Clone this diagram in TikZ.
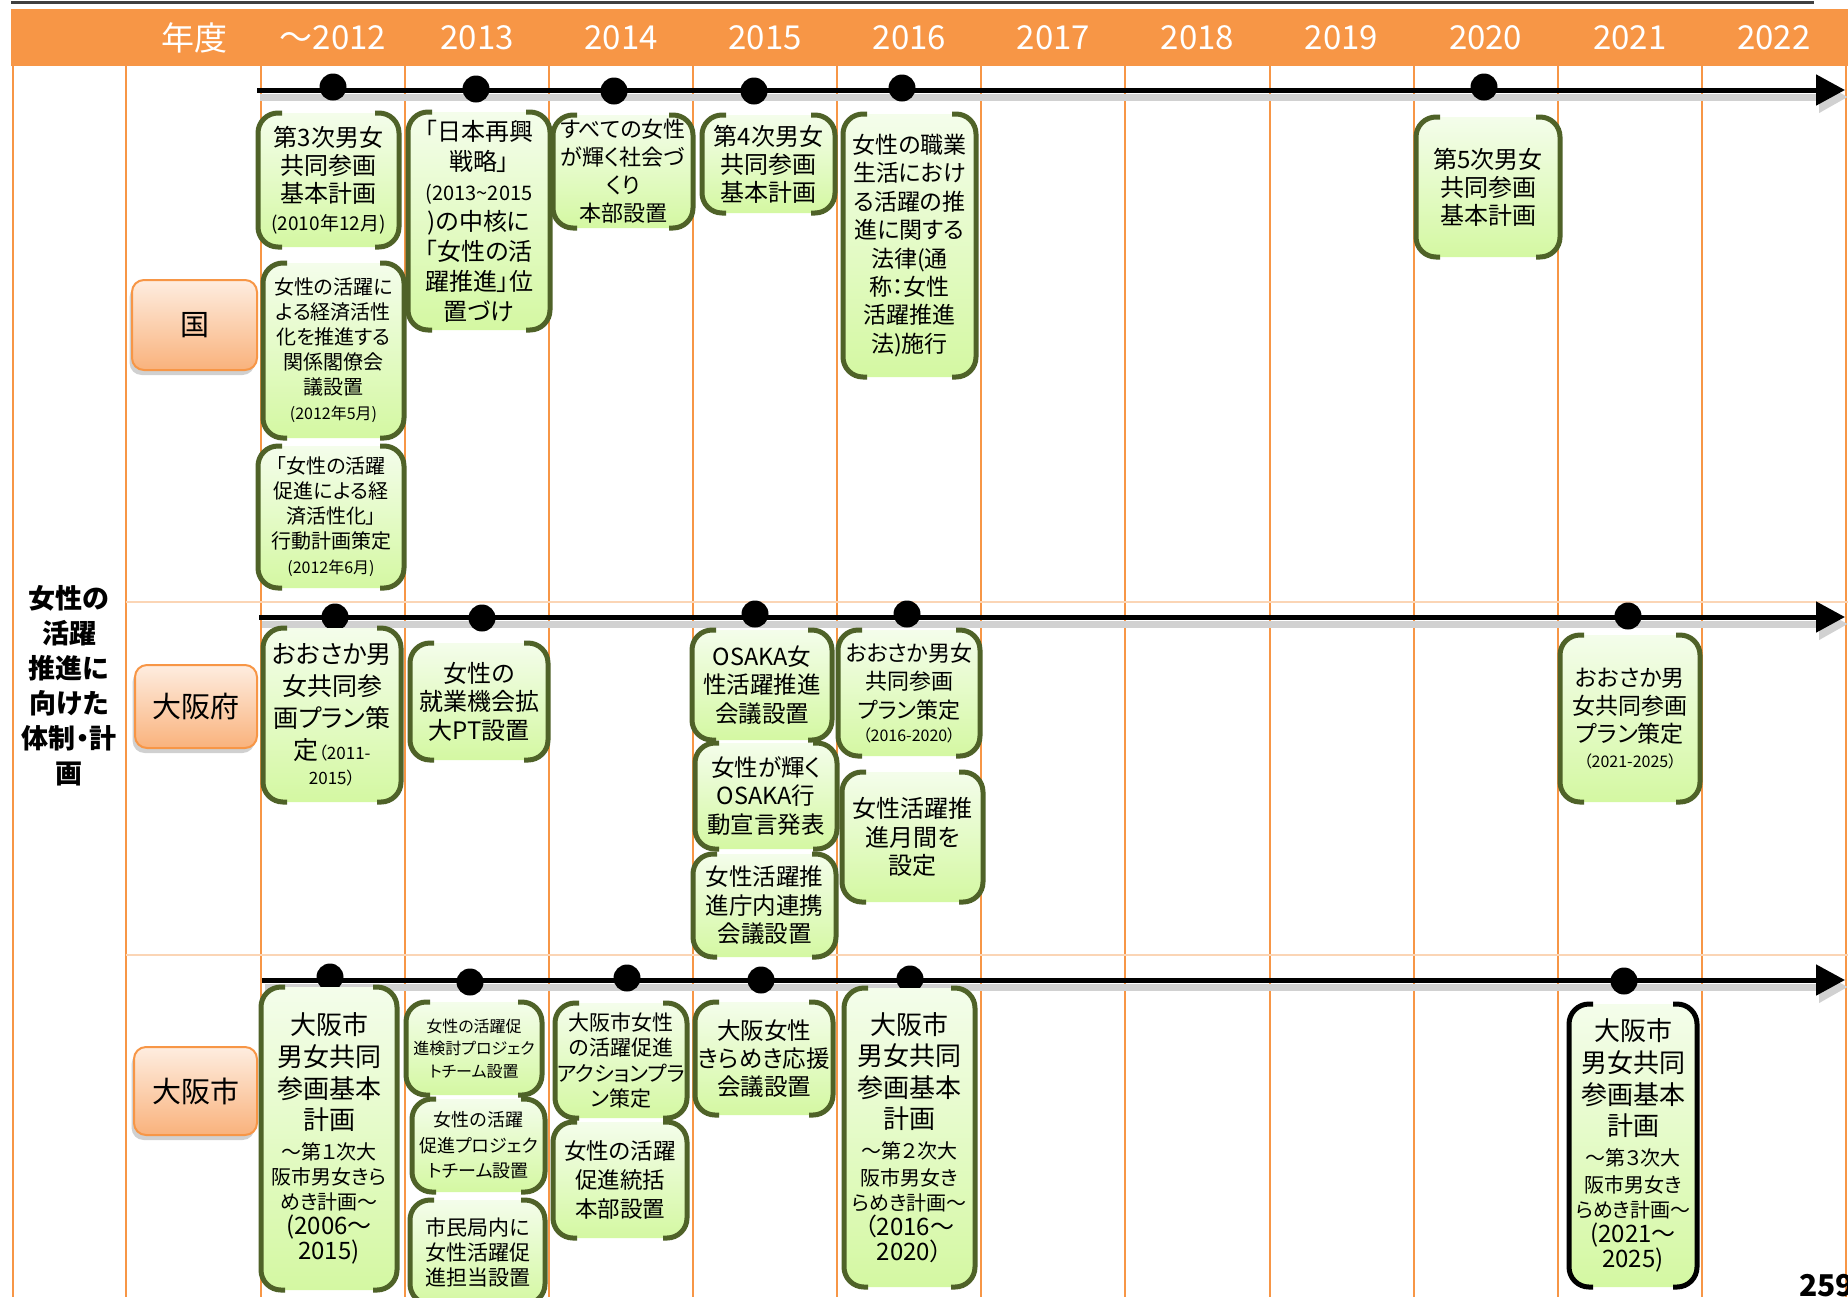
\documentclass[tikz,border=0pt]{standalone}
\usepackage{fontspec}
\setmainfont{Noto Sans CJK JP}[RawFeature=+palt]
\usetikzlibrary{arrows.meta, shadows}

\definecolor{hdrorange}{HTML}{F79646}
\definecolor{sepline}{HTML}{FBD5B5}
\definecolor{cattop}{HTML}{FEEDE0}
\definecolor{catbot}{HTML}{F9B27C}
\definecolor{evtop}{HTML}{F4FDEB}
\definecolor{evbot}{HTML}{D4F8A2}
\definecolor{evline}{HTML}{4F6228}

\newcommand{\setfs}[2]{\fontsize{#1pt}{#2pt}\selectfont}

\begin{document}
\begin{tikzpicture}[x=0.5pt,y=-0.5pt,
  gridline/.style={hdrorange, line width=1pt},
  yearlab/.style={text=white, font=\setfs{16.5}{20}},
  boxsize/.style 2 args={minimum width=#1pt, minimum height=#2pt},
  catbox/.style={draw=hdrorange, line width=1pt, rounded corners=6pt,
    top color=cattop, bottom color=catbot, inner sep=0pt, font=\setfs{14.5}{17},
    drop shadow={shadow xshift=-1.2pt, shadow yshift=-2.5pt, opacity=0.3, fill=black!60}},
  evbox/.style={rounded corners=10pt, top color=evtop, bottom color=evbot,
    inner sep=0pt, outer sep=0pt, align=center},
  bracket/.style={line width=2.5pt, rounded corners=10pt},
  timeline/.style={line width=2.5pt, -{Triangle[length=14.5pt,width=15pt]}},
  tlshadow/.style={line width=3.5pt, black!18, -{Triangle[length=14.5pt,width=15pt]}},
  tldot/.style={circle, fill=black, inner sep=0pt, minimum size=13.5pt}]

\useasboundingbox (0,0) rectangle (1848,1297);
\clip (0,0) rectangle (1848,1297);
\fill[white] (0,0) rectangle (1848,1297);

% Header band and grid
\draw[black!75, line width=1.5pt] (11,2) -- (1814,2);
\fill[hdrorange] (11,9) rectangle (1848,66);
\draw[gridline] (13,66) -- (13,1297);
\draw[gridline] (125.5,66) -- (125.5,1297);
\foreach \i in {0,...,11}
  \draw[gridline] ({261+144.08*\i},66) -- ({261+144.08*\i},1297);
\draw[sepline, line width=0.8pt] (125.5,602) -- (1848,602);
\draw[sepline, line width=0.8pt] (125.5,955) -- (1848,955);

\node[yearlab] (nendo) at (194,38) {年度};
\foreach \yr [count=\i from 0] in {～2012,2013,2014,2015,2016,2017,2018,2019,2020,2021,2022}
  \node[yearlab] (yr\i) at ({333+144.08*\i},38) {\yr};

% Row labels
\node[font=\setfs{13.5}{17.5}\bfseries, align=center] (theme) at (69,686)
  {女性の\\活躍\\推進に\\向けた\\体制・計\\画};
\node[catbox, boxsize={62.5}{45}] (kuni) at (194.5,325) {国};
\node[catbox, boxsize={61}{41.5}] (fu) at (196,706.5) {大阪府};
\node[catbox, boxsize={61.5}{44}] (shi) at (195.5,1091) {大阪市};

% Time lines
\coordinate (kunis) at (257,90);  \coordinate (kunie) at (1845,90);
\coordinate (fus)   at (259,617); \coordinate (fue)   at (1845,617);
\coordinate (shis)  at (262,980); \coordinate (shie)  at (1845,980);
\foreach \a/\b in {kunis/kunie, fus/fue, shis/shie} {
  \draw[tlshadow] ([shift={(1.5pt,-3.5pt)}]\a) -- ([shift={(1.5pt,-3.5pt)}]\b);
  \draw[timeline] (\a) -- (\b);
}

\foreach \x/\y [count=\i] in {333/87, 476/89, 614/91, 754/91, 902/88, 1484/87}
  \node[tldot] (kd\i) at (\x,\y) {};
\foreach \x/\y [count=\i] in {335/617, 482/618, 755/614, 907/614, 1628/616}
  \node[tldot] (fd\i) at (\x,\y) {};
\foreach \x/\y [count=\i] in {330/977, 470/982, 627/978, 761/980, 910/979, 1624/981}
  \node[tldot] (sd\i) at (\x,\y) {};

% National events
\node[evbox, font=\setfs{12}{14}, boxsize={70.5}{67}] (k1) at (328.5,180)
  {第3次男女\\共同参画\\基本計画\\{\setfs{9.5}{11}(2010年12月)}};
\node[evbox, font=\setfs{10}{12.5}, boxsize={70.5}{87.5}] (k2) at (333.5,350.5)
  {女性の活躍に\\よる経済活性\\化を推進する\\関係閣僚会\\議設置\\{\setfs{8}{10}(2012年5月)}};
\node[evbox, font=\setfs{10}{12.5}, boxsize={73}{71}] (k3) at (331,517)
  {「女性の活躍\\促進による経\\済活性化」\\行動計画策定\\{\setfs{8}{10}(2012年6月)}};
\node[evbox, font=\setfs{12}{15}, boxsize={71}{109}] (k4) at (479,221)
  {「日本再興\\戦略」\\{\setfs{10}{12}(2013\textasciitilde 2015}\\)の中核に\\「女性の活\\躍推進」位\\置づけ};
\node[evbox, font=\setfs{11}{14}, boxsize={70}{56.5}] (k5) at (623,171.5)
  {すべての女性\\が輝く社会づ\\くり\\本部設置};
\node[evbox, font=\setfs{12}{14}, boxsize={66.5}{49}] (k6) at (768.5,164)
  {第4次男女\\共同参画\\基本計画};
\node[evbox, font=\setfs{11.5}{14.2}, boxsize={66.5}{131.5}] (k7) at (909.5,245.5)
  {女性の職業\\生活におけ\\る活躍の推\\進に関する\\法律(通\\称：女性\\活躍推進\\法)施行};
\node[evbox, font=\setfs{12}{14}, boxsize={72}{70}] (k8) at (1488,187)
  {第5次男女\\共同参画\\基本計画};

% Osaka prefecture events
\node[evbox, font=\setfs{12.5}{16}, boxsize={69}{87}] (f1) at (332,715)
  {おおさか男\\女共同参\\画プラン策\\定{\setfs{8.5}{10}（2011-}\\[-3.5pt]{\setfs{8.5}{10}2015）}};
\node[evbox, font=\setfs{12}{14.25}, boxsize={69}{58.5}] (f2) at (479,701.5)
  {女性の\\就業機会拡\\大PT設置};
\node[evbox, font=\setfs{11.75}{14.25}, boxsize={70}{55}] (f3) at (762,685)
  {OSAKA女\\性活躍推進\\会議設置};
\node[evbox, font=\setfs{11.75}{14.25}, boxsize={71}{53}] (f4) at (766,796)
  {女性が輝く\\OSAKA行\\動宣言発表};
\node[evbox, font=\setfs{11.75}{14.25}, boxsize={71.5}{51.5}] (f5) at (764.5,905.5)
  {女性活躍推\\進庁内連携\\会議設置};
\node[evbox, font=\setfs{11}{14.25}, boxsize={71}{63}] (f6) at (909,693)
  {おおさか男女\\共同参画\\プラン策定\\[-2.5pt]{\setfs{8}{10}（2016-2020）}};
\node[evbox, font=\setfs{12}{14.25}, boxsize={70.5}{65}] (f7) at (912.5,837)
  {女性活躍推\\進月間を\\設定};
\node[evbox, font=\setfs{11.5}{14}, boxsize={70}{83.5}] (f8) at (1630,718.5)
  {おおさか男\\女共同参画\\プラン策定\\[-1.5pt]{\setfs{8}{10}（2021-2025）}};

% Osaka city events
\node[evbox, font=\setfs{13}{15.8}, boxsize={68}{151.5}] (s1) at (329,1138.5)
  {大阪市\\男女共同\\参画基本\\計画\\[-1pt]{\setfs{10}{12}～第１次大}\\[-3.3pt]{\setfs{10}{12}阪市男女きら}%
   \\[-3.3pt]{\setfs{10}{12}めき計画～}\\[-3.3pt]{\setfs{12}{14}(2006～}\\[-3.3pt]{\setfs{12}{14}2015)}};
\node[evbox, font=\setfs{8}{11.25}, boxsize={68}{46.5}] (s2) at (474,1048.5)
  {女性の活躍促\\進検討プロジェク\\トチーム設置};
\node[evbox, font=\setfs{9}{12.75}, boxsize={66.5}{46.5}] (s3) at (478.5,1145.5)
  {女性の活躍\\促進プロジェク\\トチーム設置};
\node[evbox, font=\setfs{10.5}{12.5}, boxsize={67.5}{52}] (s4) at (477.5,1252)
  {市民局内に\\女性活躍促\\進担当設置};
\node[evbox, font=\setfs{10.5}{12.8}, boxsize={66}{57.5}] (s5) at (621,1060.5)
  {大阪市女性\\の活躍促進\\アクションプラ\\ン策定};
\node[evbox, font=\setfs{11.25}{14.5}, boxsize={67}{58}] (s6) at (620,1180)
  {女性の活躍\\促進統括\\本部設置};
\node[evbox, font=\setfs{11.75}{14}, boxsize={69}{56.5}] (s7) at (764,1058.5)
  {大阪女性\\きらめき応援\\会議設置};
\node[evbox, font=\setfs{13}{15.8}, boxsize={65.5}{149.5}] (s8) at (909.5,1137.5)
  {大阪市\\男女共同\\参画基本\\計画\\[-1pt]{\setfs{10}{12}～第２次大}\\[-2.3pt]{\setfs{10}{12}阪市男女き}%
   \\[-3.3pt]{\setfs{10}{12}らめき計画～}\\[-3.3pt]{\setfs{12}{14}（2016～}\\[-3.3pt]{\setfs{12}{14}2020）}};
\node[evbox, font=\setfs{13}{15.8}, boxsize={64}{141.5}] (s9) at (1633,1145.5)
  {大阪市\\男女共同\\参画基本\\計画\\[-1pt]{\setfs{10}{12}～第３次大}\\[-2.3pt]{\setfs{10}{12}阪市男女き}%
   \\[-3.3pt]{\setfs{10}{12}らめき計画～}\\[-3.3pt]{\setfs{12}{14}(2021～}\\[-3.3pt]{\setfs{12}{14}2025)}};

% Bracket borders of the event boxes
\foreach \n/\c in {k1/evline, k2/evline, k3/evline, k4/evline, k5/evline, k6/evline, k7/evline, k8/evline,
    f1/evline, f2/evline, f3/evline, f4/evline, f5/evline, f6/evline, f7/evline, f8/evline,
    s1/evline, s2/evline, s3/evline, s4/evline, s5/evline, s6/evline, s7/evline, s8/evline, s9/black} {
  \draw[bracket, draw=\c] ([xshift=12pt]\n.north west) -- (\n.north west)
    -- (\n.south west) -- ([xshift=12pt]\n.south west);
  \draw[bracket, draw=\c] ([xshift=-12pt]\n.north east) -- (\n.north east)
    -- (\n.south east) -- ([xshift=-12pt]\n.south east);
}

\node[font=\setfs{15}{17}\bfseries, anchor=north west, inner sep=0pt] (pageno) at (1799,1274) {259};
\end{tikzpicture}
\end{document}
